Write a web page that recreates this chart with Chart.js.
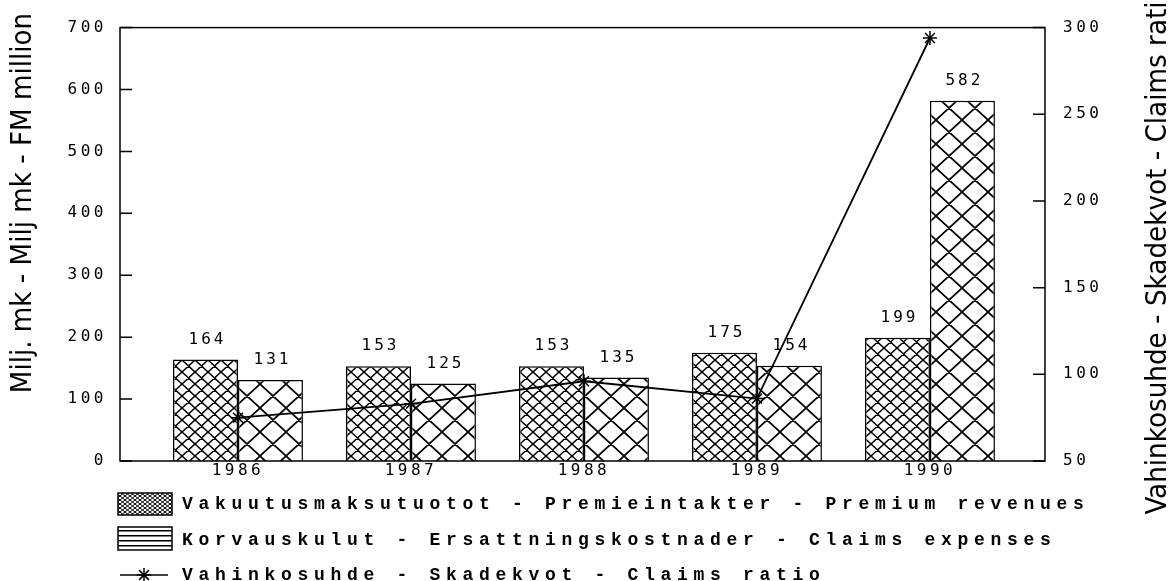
<!DOCTYPE html>
<html>
<head>
<meta charset="utf-8">
<script src="https://cdn.jsdelivr.net/npm/chart.js@4/dist/chart.umd.min.js"></script>
<style>
html, body { margin: 0; padding: 0; background: #fff; }
canvas { display: block; }
</style>
</head>
<body>
<canvas id="chart" width="1172" height="581"></canvas>
<script>
// Data
const years = [1986, 1987, 1988, 1989, 1990];
const premiumRevenues = [164, 153, 153, 175, 199];
const claimsExpenses = [131, 125, 135, 154, 582];
const claimsRatio = [75, 83, 96, 86, 294];
const leftTicks = [0, 100, 200, 300, 400, 500, 600, 700];
const rightTicks = [50, 100, 150, 200, 250, 300];

const labelPremium = "Vakuutusmaksutuotot - Premieintakter - Premium revenues";
const labelClaims = "Korvauskulut - Ersattningskostnader - Claims expenses";
const labelRatio = "Vahinkosuhde - Skadekvot - Claims ratio";
const leftTitle = "Milj. mk - Milj mk - FM million";
const rightTitle = "Vahinkosuhde - Skadekvot - Claims ratio";

const numFont = { family: "'DejaVu Sans Mono', monospace", size: 16 };
const titleFamily = "'DejaVu Sans Condensed', 'Liberation Sans Narrow', sans-serif";

// hatch pattern: diagonals both ways in a w x h tile
function makeHatch(w, h, lw) {
    const c = document.createElement("canvas");
    c.width = w; c.height = h;
    const g = c.getContext("2d");
    g.fillStyle = "#fff";
    g.fillRect(0, 0, w, h);
    g.strokeStyle = "#000";
    g.lineWidth = lw;
    g.beginPath();
    for (let dx = -w; dx <= w; dx += w) {
        for (let dy = -h; dy <= h; dy += h) {
            g.moveTo(dx, dy); g.lineTo(dx + w, dy + h);
            g.moveTo(dx + w, dy); g.lineTo(dx, dy + h);
        }
    }
    g.stroke();
    return g.createPattern(c, "repeat");
}

function makeLines(h, lw) {
    const c = document.createElement("canvas");
    c.width = 8; c.height = h;
    const g = c.getContext("2d");
    g.fillStyle = "#fff";
    g.fillRect(0, 0, 8, h);
    g.fillStyle = "#000";
    g.fillRect(0, 0, 8, lw);
    return g.createPattern(c, "repeat");
}

const ctx = document.getElementById("chart").getContext("2d");
const fineHatch = makeHatch(13, 12, 1.5);
const coarseHatch = makeHatch(26, 24, 1.7);
const legendHatch = makeHatch(5, 4, 1);
const legendLines = makeLines(5, 1.5);

function drawStar(c, x, y, r) {
    c.beginPath();
    c.moveTo(x - r, y); c.lineTo(x + r, y);
    c.moveTo(x, y - r); c.lineTo(x, y + r);
    const d = r * 0.7;
    c.moveTo(x - d, y - d); c.lineTo(x + d, y + d);
    c.moveTo(x + d, y - d); c.lineTo(x - d, y + d);
    c.stroke();
}

function drawRotated(c, text, x, y, family, targetWidth) {
    c.save();
    c.letterSpacing = "0px";
    c.font = "100px " + family;
    const size = 100 * targetWidth / c.measureText(text).width;
    c.font = size.toFixed(1) + "px " + family;
    c.translate(x, y);
    c.rotate(-Math.PI / 2);
    c.textAlign = "center";
    c.textBaseline = "middle";
    c.fillStyle = "#000";
    c.fillText(text, 0, 0);
    c.restore();
}

const decorPlugin = {
    id: "decor",
    beforeLayout(chart) {
        chart.ctx.letterSpacing = "3.5px";
    },
    beforeDraw(chart) {
        const c = chart.ctx;
        c.save();
        c.fillStyle = "#fff";
        c.fillRect(0, 0, chart.width, chart.height);
        c.restore();
        c.letterSpacing = "3.5px";
    },
    afterDatasetsDraw(chart) {
        const c = chart.ctx;
        const a = chart.chartArea;
        c.save();
        // frame
        c.strokeStyle = "#000";
        c.lineWidth = 1.5;
        c.strokeRect(a.left, a.top, a.right - a.left, a.bottom - a.top);
        // inward tick marks
        c.beginPath();
        chart.scales.y.ticks.forEach(t => {
            const py = chart.scales.y.getPixelForValue(t.value);
            c.moveTo(a.left, py); c.lineTo(a.left + 12, py);
        });
        chart.scales.y1.ticks.forEach(t => {
            const py = chart.scales.y1.getPixelForValue(t.value);
            c.moveTo(a.right - 12, py); c.lineTo(a.right, py);
        });
        c.stroke();

        // value labels above the bars
        c.fillStyle = "#000";
        c.font = numFont.size + "px " + numFont.family;
        c.letterSpacing = "3px";
        c.textAlign = "center";
        c.textBaseline = "middle";
        [0, 1].forEach(di => {
            const meta = chart.getDatasetMeta(di);
            meta.data.forEach((el, i) => {
                const v = chart.data.datasets[di].data[i].y;
                c.fillText(String(v), el.x + 2, el.y - 20);
            });
        });
        c.restore();
    },
    afterDraw(chart) {
        const c = chart.ctx;
        c.save();
        // axis titles
        drawRotated(c, leftTitle, 23, 203, titleFamily, 380);
        drawRotated(c, rightTitle, 1158, 250, titleFamily, 530);

        // legend
        c.strokeStyle = "#000";
        c.lineWidth = 1.5;
        c.fillStyle = legendHatch;
        c.fillRect(118, 493, 54, 22);
        c.strokeRect(118, 493, 54, 22);
        c.fillStyle = legendLines;
        c.fillRect(118, 527, 54, 23);
        c.strokeRect(118, 527, 54, 23);
        c.beginPath();
        c.moveTo(120, 575); c.lineTo(168, 575);
        c.stroke();
        drawStar(c, 144, 575, 7);

        c.fillStyle = "#000";
        c.font = "bold 18px 'Liberation Mono', 'Courier New', monospace";
        c.letterSpacing = "5.7px";
        c.textAlign = "left";
        c.textBaseline = "middle";
        const ds = chart.data.datasets;
        c.fillText(ds[0].label, 182, 504);
        c.fillText(ds[1].label, 182, 540);
        c.fillText(ds[2].label, 182, 575);
        c.restore();
    }
};

const chart = new Chart(ctx, {
    type: "bar",
    data: {
        datasets: [
            {
                label: labelPremium,
                data: years.map((x, i) => ({ x: x, y: premiumRevenues[i] })),
                backgroundColor: fineHatch,
                borderColor: "#000",
                borderWidth: 1.5,
                yAxisID: "y",
                order: 1
            },
            {
                label: labelClaims,
                data: years.map((x, i) => ({ x: x, y: claimsExpenses[i] })),
                backgroundColor: coarseHatch,
                borderColor: "#000",
                borderWidth: 1.5,
                yAxisID: "y",
                order: 1
            },
            {
                type: "line",
                label: labelRatio,
                data: years.map((x, i) => ({ x: x, y: claimsRatio[i] })),
                borderColor: "#000",
                borderWidth: 1.8,
                pointStyle: "star",
                pointRadius: 7,
                pointBorderColor: "#000",
                pointBorderWidth: 1.5,
                pointBackgroundColor: "#000",
                tension: 0,
                yAxisID: "y1",
                order: 0
            }
        ]
    },
    options: {
        responsive: false,
        animation: false,
        devicePixelRatio: 1,
        categoryPercentage: 0.751,
        barPercentage: 1,
        layout: { padding: { top: 20, left: 0, right: 0, bottom: 0 } },
        plugins: {
            legend: { display: false },
            tooltip: { enabled: false }
        },
        scales: {
            x: {
                type: "linear",
                offset: false,
                min: 1985.318,
                max: 1990.665,
                afterBuildTicks: s => { s.ticks = years.map(v => ({ value: v })); },
                afterFit: s => { s.height = 120; },
                grid: { display: false, drawTicks: false, offset: false },
                border: { display: false },
                ticks: {
                    color: "#000",
                    font: numFont,
                    padding: 0,
                    maxRotation: 0,
                    callback: v => String(v)
                }
            },
            y: {
                position: "left",
                min: 0,
                max: 700,
                afterBuildTicks: s => { s.ticks = leftTicks.map(v => ({ value: v })); },
                afterFit: s => { s.width = 120; },
                grid: { display: false, drawTicks: false },
                border: { display: false },
                ticks: { color: "#000", font: numFont, padding: 13 }
            },
            y1: {
                position: "right",
                min: 50,
                max: 300,
                afterBuildTicks: s => { s.ticks = rightTicks.map(v => ({ value: v })); },
                afterFit: s => { s.width = 127; },
                grid: { display: false, drawTicks: false },
                border: { display: false },
                ticks: { color: "#000", font: numFont, padding: 18 }
            }
        }
    },
    plugins: [decorPlugin]
});
</script>
</body>
</html>
